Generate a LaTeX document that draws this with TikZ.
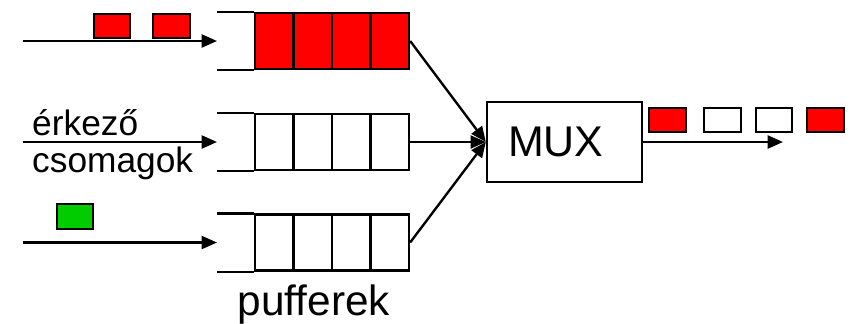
\documentclass[tikz,border=0pt]{standalone}
\usepackage{fontspec}
\setmainfont{Liberation Sans}
\usetikzlibrary{arrows.meta,calc}
\tikzset{
	wire/.style={line width=2pt},
	feed/.style={wire,-{Triangle[length=13pt,width=11pt]}},
	cell/.style={draw,line width=2pt,minimum width=32.7pt,minimum height=47.6pt,inner sep=0pt},
	pkt/.style={draw,line width=1.7pt,minimum width=31pt,minimum height=20.5pt,inner sep=0pt},
	lbl/.style={font=\fontsize{30}{36}\selectfont,inner sep=0pt}
}

\begin{document}
\begin{tikzpicture}[x=0.85pt,y=-0.85pt]
				\useasboundingbox (0,0) rectangle (855,323);
				
				% buffers
				\foreach \b/\y/\f in {1/41/red,2/142/white,3/242.5/white}{
					\foreach \c in {1,...,4}
						\node[cell,fill=\f] (c\b\c) at ({255+38.5*(\c-0.5)},\y) {};
					\coordinate (open\b) at (217,\y);
					\coordinate (src\b) at (23,\y);
					\draw[wire] (open\b |- c\b1.north) -- (c\b1.north west);
					\draw[wire] (open\b |- c\b1.south) -- (c\b1.south west);
					\draw[feed] (src\b) -- (open\b);
				}
				
				% incoming packets
				\node[pkt,fill=red] (p1) at (112,26) {};
				\node[pkt,fill=red] (p2) at (171.5,26) {};
				\node[pkt,fill=green!80!black] (p3) at (75,216.5) {};
				
				\node[lbl,anchor=base west] (arr) at (32,135) {érkező};
				\node[lbl,anchor=base west] (pkts) at (32,172) {csomagok};
				\node[lbl,anchor=base,font=\fontsize{36}{42}\selectfont] (bufs) at (314,315) {pufferek};
				
				% multiplexer
				\node[draw,line width=2pt,minimum width=131.7pt,minimum height=68pt,
					inner xsep=17.5pt,text width=96pt,align=left,
					font=\fontsize{36.5}{42}\selectfont] (mux) at (564.5,142) {MUX};
				\draw[feed] (c14.east) -- (mux.west);
				\draw[feed] (c24.east) -- (mux.west);
				\draw[feed] (c34.east) -- (mux.west);
				
				\coordinate (out) at (783,142);
				\draw[feed] (mux.east) -- (out);
				
				% outgoing packets
				\node[pkt,fill=red] (q1) at (667.5,120) {};
				\node[pkt,fill=white] (q2) at (722.5,120) {};
				\node[pkt,fill=white] (q3) at (774,120) {};
				\node[pkt,fill=red] (q4) at (825.5,120) {};
			\end{tikzpicture}
\end{document}
